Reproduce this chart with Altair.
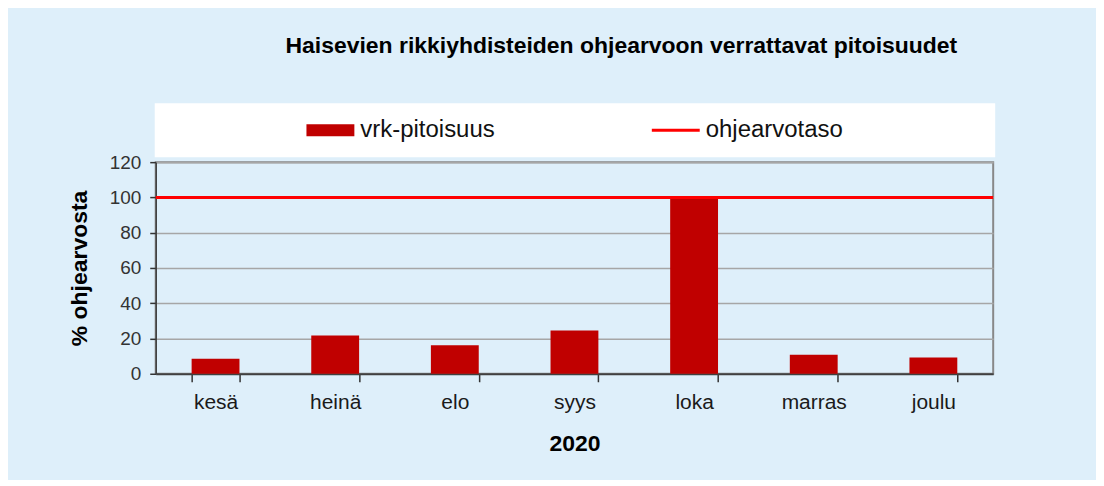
import altair as alt
import pandas as pd

# ---- data ----
months = ["kesä", "heinä", "elo", "syys", "loka", "marras", "joulu"]
values = [8.5, 21.7, 16.2, 24.6, 99.5, 10.8, 9.2]
guide_level = [100]
series = ["vrk-pitoisuus", "ohjearvotaso"]
series_colors = ["#C00000", "#FF0000"]
series_shapes = ["M-1,-0.25H1V0.25H-1Z", "M-1,-0.065H1V0.065H-1Z"]
y_ticks = [0, 20, 40, 60, 80, 100, 120]

FONT = "Liberation Sans"
BG = "#DEEFFA"

bars_df = pd.DataFrame({"month": months, "v": values, "series": series[0]})
rule_df = pd.DataFrame({"v": guide_level, "series": series[1]})
legend_df = pd.DataFrame({"series": series})
box_df = pd.DataFrame({"a": [0]})

x_enc = alt.X(
    "month:N",
    sort=months,
    scale=alt.Scale(paddingInner=0.6, paddingOuter=0.3),
    axis=alt.Axis(
        title="2020",
        labelAngle=0,
        tickBand="extent",
        tickSize=8,
        tickColor="#333333",
        tickWidth=1.5,
        domainColor="#404040",
        domainWidth=2,
        labelFont=FONT,
        labelFontSize=21,
        labelColor="#1a1a1a",
        labelPadding=10,
        titleFont=FONT,
        titleFontSize=23,
        titleFontWeight="bold",
        titleColor="#000000",
        titlePadding=20,
    ),
)

y_axis = alt.Axis(
    values=y_ticks,
    tickCount=7,
    labelOverlap=False,
    title="% ohjearvosta",
    tickSize=6,
    tickColor="#333333",
    tickWidth=1.5,
    domainColor="#404040",
    domainWidth=1.5,
    gridColor="#A6A6A6",
    gridWidth=1.5,
    labelFont=FONT,
    labelFontSize=19,
    labelColor="#333333",
    labelPadding=9,
    titleFont=FONT,
    titleFontSize=23,
    titleFontWeight="bold",
    titleColor="#000000",
    titlePadding=18,
)
y_scale = alt.Scale(domain=[0, 120])

box = alt.Chart(box_df).mark_rect(color="white").encode(
    x=alt.value(-1), x2=alt.value(841), y=alt.value(-59), y2=alt.value(-5)
)

bars = alt.Chart(bars_df).mark_bar(color="#C00000").encode(
    x=x_enc, y=alt.Y("v:Q", scale=y_scale, axis=y_axis)
)

rule = alt.Chart(rule_df).mark_rule(color="#FF0000", strokeWidth=3).encode(
    y=alt.Y("v:Q", scale=y_scale, axis=y_axis)
)

leg = alt.Legend(
    orient="none",
    legendX=151,
    legendY=-56,
    direction="horizontal",
    title=None,
    symbolSize=2304,
    symbolStrokeWidth=0,
    symbolOpacity=1,
    labelFont=FONT,
    labelFontSize=24,
    labelColor="#111111",
    labelOffset=6,
    columnPadding=157,
    padding=0,
    labelLimit=0,
)

legend_layer = alt.Chart(legend_df).mark_point(filled=True, opacity=0, size=2304).encode(
    color=alt.Color("series:N", scale=alt.Scale(domain=series, range=series_colors), legend=leg),
    shape=alt.Shape("series:N", scale=alt.Scale(domain=series, range=series_shapes), legend=leg),
)

chart = (
    alt.layer(box, bars, rule, legend_layer)
    .properties(
        width=839,
        height=212,
        padding={"left": 148, "top": 154, "right": 103, "bottom": 106},
        autosize=alt.AutoSizeParams(type="none"),
        title=alt.TitleParams(
            "Haisevien rikkiyhdisteiden ohjearvoon verrattavat pitoisuudet",
            font=FONT,
            fontSize=23,
            fontWeight="bold",
            color="#000000",
            anchor="middle",
            dx=47,
            offset=45,
        ),
        background=BG,
    )
    .configure_view(fill="white", stroke="#888888", strokeWidth=2)
)

chart.save("out.html", embed_options={"renderer": "svg", "actions": False})
